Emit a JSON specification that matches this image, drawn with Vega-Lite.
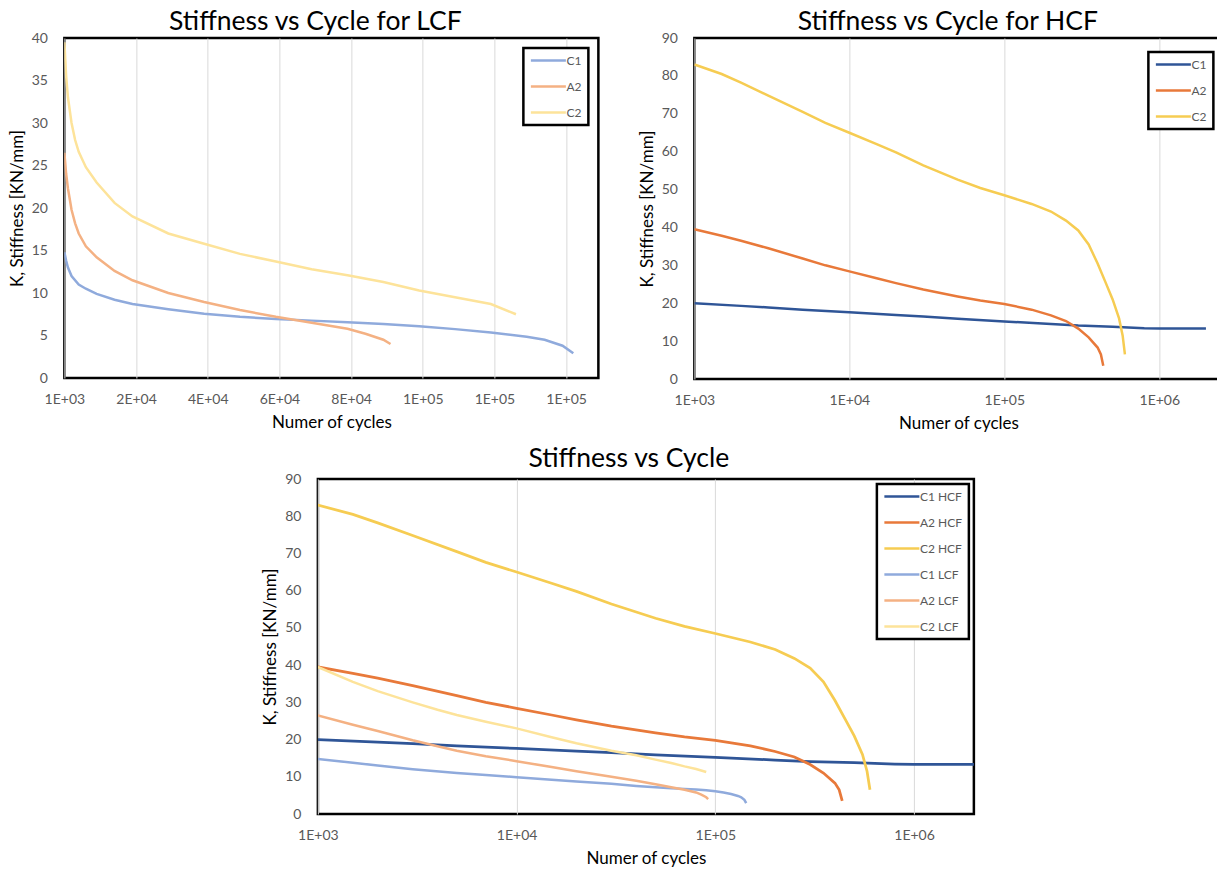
{
  "$schema": "https://vega.github.io/schema/vega-lite/v6.json",
  "background": "white",
  "padding": {"left": 6, "top": 7, "right": 0, "bottom": 0},
  "datasets": {
    "lcf": [
      {"series": "C1 LCF", "cycles": 1000, "k": 14.8},
      {"series": "C1 LCF", "cycles": 1500, "k": 13.8},
      {"series": "C1 LCF", "cycles": 2000, "k": 13.0},
      {"series": "C1 LCF", "cycles": 3000, "k": 12.0},
      {"series": "C1 LCF", "cycles": 5000, "k": 11.0},
      {"series": "C1 LCF", "cycles": 7000, "k": 10.5},
      {"series": "C1 LCF", "cycles": 10000, "k": 9.9},
      {"series": "C1 LCF", "cycles": 15000, "k": 9.2},
      {"series": "C1 LCF", "cycles": 20000, "k": 8.7},
      {"series": "C1 LCF", "cycles": 30000, "k": 8.1},
      {"series": "C1 LCF", "cycles": 40000, "k": 7.55},
      {"series": "C1 LCF", "cycles": 50000, "k": 7.2},
      {"series": "C1 LCF", "cycles": 60000, "k": 6.95},
      {"series": "C1 LCF", "cycles": 70000, "k": 6.75},
      {"series": "C1 LCF", "cycles": 80000, "k": 6.55},
      {"series": "C1 LCF", "cycles": 90000, "k": 6.35},
      {"series": "C1 LCF", "cycles": 100000, "k": 6.1},
      {"series": "C1 LCF", "cycles": 110000, "k": 5.75},
      {"series": "C1 LCF", "cycles": 120000, "k": 5.35},
      {"series": "C1 LCF", "cycles": 130000, "k": 4.85},
      {"series": "C1 LCF", "cycles": 135000, "k": 4.5},
      {"series": "C1 LCF", "cycles": 140000, "k": 3.8},
      {"series": "C1 LCF", "cycles": 143000, "k": 2.9},
      {"series": "A2 LCF", "cycles": 1000, "k": 26.5},
      {"series": "A2 LCF", "cycles": 1500, "k": 24.0},
      {"series": "A2 LCF", "cycles": 2000, "k": 22.3},
      {"series": "A2 LCF", "cycles": 3000, "k": 19.8},
      {"series": "A2 LCF", "cycles": 4000, "k": 18.2},
      {"series": "A2 LCF", "cycles": 5000, "k": 17.0},
      {"series": "A2 LCF", "cycles": 7000, "k": 15.5},
      {"series": "A2 LCF", "cycles": 10000, "k": 14.2},
      {"series": "A2 LCF", "cycles": 15000, "k": 12.6},
      {"series": "A2 LCF", "cycles": 20000, "k": 11.5},
      {"series": "A2 LCF", "cycles": 30000, "k": 10.0},
      {"series": "A2 LCF", "cycles": 40000, "k": 8.95},
      {"series": "A2 LCF", "cycles": 50000, "k": 8.0},
      {"series": "A2 LCF", "cycles": 60000, "k": 7.2},
      {"series": "A2 LCF", "cycles": 70000, "k": 6.5},
      {"series": "A2 LCF", "cycles": 80000, "k": 5.8},
      {"series": "A2 LCF", "cycles": 85000, "k": 5.2},
      {"series": "A2 LCF", "cycles": 90000, "k": 4.5},
      {"series": "A2 LCF", "cycles": 92000, "k": 4.0},
      {"series": "C2 LCF", "cycles": 1000, "k": 39.5},
      {"series": "C2 LCF", "cycles": 1500, "k": 35.5},
      {"series": "C2 LCF", "cycles": 2000, "k": 33.0},
      {"series": "C2 LCF", "cycles": 3000, "k": 30.0},
      {"series": "C2 LCF", "cycles": 4000, "k": 28.0},
      {"series": "C2 LCF", "cycles": 5000, "k": 26.6},
      {"series": "C2 LCF", "cycles": 7000, "k": 24.8},
      {"series": "C2 LCF", "cycles": 10000, "k": 23.0},
      {"series": "C2 LCF", "cycles": 15000, "k": 20.6},
      {"series": "C2 LCF", "cycles": 20000, "k": 19.0},
      {"series": "C2 LCF", "cycles": 30000, "k": 17.0},
      {"series": "C2 LCF", "cycles": 40000, "k": 15.8},
      {"series": "C2 LCF", "cycles": 50000, "k": 14.6},
      {"series": "C2 LCF", "cycles": 60000, "k": 13.7},
      {"series": "C2 LCF", "cycles": 70000, "k": 12.8},
      {"series": "C2 LCF", "cycles": 80000, "k": 12.1},
      {"series": "C2 LCF", "cycles": 90000, "k": 11.3},
      {"series": "C2 LCF", "cycles": 100000, "k": 10.3},
      {"series": "C2 LCF", "cycles": 110000, "k": 9.5},
      {"series": "C2 LCF", "cycles": 120000, "k": 8.7},
      {"series": "C2 LCF", "cycles": 127000, "k": 7.5}
    ],
    "hcf": [
      {"series": "C1 HCF", "cycles": 1000, "k": 20.0},
      {"series": "C1 HCF", "cycles": 2000, "k": 19.3},
      {"series": "C1 HCF", "cycles": 3000, "k": 18.9},
      {"series": "C1 HCF", "cycles": 5000, "k": 18.3},
      {"series": "C1 HCF", "cycles": 10000, "k": 17.6},
      {"series": "C1 HCF", "cycles": 20000, "k": 16.9},
      {"series": "C1 HCF", "cycles": 30000, "k": 16.5},
      {"series": "C1 HCF", "cycles": 50000, "k": 15.9},
      {"series": "C1 HCF", "cycles": 100000, "k": 15.2},
      {"series": "C1 HCF", "cycles": 200000, "k": 14.5},
      {"series": "C1 HCF", "cycles": 300000, "k": 14.1},
      {"series": "C1 HCF", "cycles": 500000, "k": 13.8},
      {"series": "C1 HCF", "cycles": 800000, "k": 13.4},
      {"series": "C1 HCF", "cycles": 1000000, "k": 13.3},
      {"series": "C1 HCF", "cycles": 2000000, "k": 13.3},
      {"series": "A2 HCF", "cycles": 1000, "k": 39.5},
      {"series": "A2 HCF", "cycles": 1500, "k": 37.8},
      {"series": "A2 HCF", "cycles": 2000, "k": 36.5},
      {"series": "A2 HCF", "cycles": 3000, "k": 34.5},
      {"series": "A2 HCF", "cycles": 5000, "k": 31.8},
      {"series": "A2 HCF", "cycles": 7000, "k": 30.0},
      {"series": "A2 HCF", "cycles": 10000, "k": 28.4},
      {"series": "A2 HCF", "cycles": 15000, "k": 26.6},
      {"series": "A2 HCF", "cycles": 20000, "k": 25.3},
      {"series": "A2 HCF", "cycles": 30000, "k": 23.6},
      {"series": "A2 HCF", "cycles": 50000, "k": 21.8},
      {"series": "A2 HCF", "cycles": 70000, "k": 20.7},
      {"series": "A2 HCF", "cycles": 100000, "k": 19.8},
      {"series": "A2 HCF", "cycles": 150000, "k": 18.3},
      {"series": "A2 HCF", "cycles": 200000, "k": 16.8},
      {"series": "A2 HCF", "cycles": 250000, "k": 15.3},
      {"series": "A2 HCF", "cycles": 300000, "k": 13.3},
      {"series": "A2 HCF", "cycles": 350000, "k": 11.0},
      {"series": "A2 HCF", "cycles": 400000, "k": 8.3},
      {"series": "A2 HCF", "cycles": 420000, "k": 6.5},
      {"series": "A2 HCF", "cycles": 435000, "k": 3.5},
      {"series": "C2 HCF", "cycles": 1000, "k": 83.0},
      {"series": "C2 HCF", "cycles": 1500, "k": 80.5},
      {"series": "C2 HCF", "cycles": 2000, "k": 78.2},
      {"series": "C2 HCF", "cycles": 3000, "k": 74.8},
      {"series": "C2 HCF", "cycles": 5000, "k": 70.5},
      {"series": "C2 HCF", "cycles": 7000, "k": 67.6},
      {"series": "C2 HCF", "cycles": 10000, "k": 65.0},
      {"series": "C2 HCF", "cycles": 15000, "k": 62.0},
      {"series": "C2 HCF", "cycles": 20000, "k": 59.8},
      {"series": "C2 HCF", "cycles": 30000, "k": 56.4},
      {"series": "C2 HCF", "cycles": 50000, "k": 52.6},
      {"series": "C2 HCF", "cycles": 70000, "k": 50.4},
      {"series": "C2 HCF", "cycles": 100000, "k": 48.5},
      {"series": "C2 HCF", "cycles": 150000, "k": 46.2},
      {"series": "C2 HCF", "cycles": 200000, "k": 44.2},
      {"series": "C2 HCF", "cycles": 250000, "k": 41.8},
      {"series": "C2 HCF", "cycles": 300000, "k": 39.2},
      {"series": "C2 HCF", "cycles": 350000, "k": 35.5},
      {"series": "C2 HCF", "cycles": 400000, "k": 30.5},
      {"series": "C2 HCF", "cycles": 450000, "k": 25.5},
      {"series": "C2 HCF", "cycles": 500000, "k": 21.0},
      {"series": "C2 HCF", "cycles": 550000, "k": 16.0},
      {"series": "C2 HCF", "cycles": 580000, "k": 11.5},
      {"series": "C2 HCF", "cycles": 600000, "k": 6.5}
    ]
  },
  "vconcat": [
    {
      "hconcat": [
        {
          "title": {"text": "Stiffness vs Cycle for LCF", "dx": -16, "offset": -4},
          "width": 534,
          "height": 340,
          "data": {"name": "lcf"},
          "mark": {"type": "line", "strokeWidth": 2.5, "clip": true},
          "encoding": {
            "x": {
              "field": "cycles", "type": "quantitative",
              "scale": {"domain": [1000, 150000], "nice": false, "zero": false},
              "axis": {
                "title": "Numer of cycles",
                "values": [1000, 21000, 41000, 61000, 81000, 101000, 121000, 141000],
                "labelExpr": "replace(upper(format(datum.value, '.0e')), 'E+', 'E+0')"
              }
            },
            "y": {
              "field": "k", "type": "quantitative",
              "scale": {"domain": [0, 40], "nice": false},
              "axis": {"title": "K, Stiffness [KN/mm]", "values": [0, 5, 10, 15, 20, 25, 30, 35, 40]}
            },
            "color": {
              "field": "series", "type": "nominal",
              "scale": {"domain": ["C1 LCF", "A2 LCF", "C2 LCF"], "range": ["#8FAADC", "#F4B183", "#FDE39A"]},
              "legend": {"title": null, "offset": 10, "labelExpr": "split(datum.label, ' ')[0]"}
            }
          }
        },
        {
          "title": {"text": "Stiffness vs Cycle for HCF", "dx": -13, "offset": -4},
          "width": 533,
          "height": 341,
          "data": {"name": "hcf"},
          "mark": {"type": "line", "strokeWidth": 2.5, "clip": true},
          "encoding": {
            "x": {
              "field": "cycles", "type": "quantitative",
              "scale": {"type": "log", "domain": [1000, 2750000], "nice": false},
              "axis": {
                "title": "Numer of cycles",
                "titleX": 264,
                "values": [1000, 10000, 100000, 1000000],
                "labelExpr": "replace(upper(format(datum.value, '.0e')), 'E+', 'E+0')"
              }
            },
            "y": {
              "field": "k", "type": "quantitative",
              "scale": {"domain": [0, 90], "nice": false},
              "axis": {"title": "K, Stiffness [KN/mm]", "values": [0, 10, 20, 30, 40, 50, 60, 70, 80, 90]}
            },
            "color": {
              "field": "series", "type": "nominal",
              "scale": {"domain": ["C1 HCF", "A2 HCF", "C2 HCF"], "range": ["#2F5597", "#E8793A", "#F6CC52"]},
              "legend": {"title": null, "offset": 14, "labelExpr": "split(datum.label, ' ')[0]"}
            }
          }
        }
      ],
      "spacing": 36,
      "resolve": {"scale": {"color": "independent", "x": "independent", "y": "independent"}, "legend": {"color": "independent"}}
    },
    {
      "title": {"text": "Stiffness vs Cycle", "dx": -17, "offset": 0},
      "width": 656,
      "height": 335,
      "encoding": {
        "x": {
          "field": "cycles", "type": "quantitative",
          "scale": {"type": "log", "domain": [1000, 2000000], "nice": false},
          "axis": {
            "title": "Numer of cycles",
            "values": [1000, 10000, 100000, 1000000],
            "labelExpr": "replace(upper(format(datum.value, '.0e')), 'E+', 'E+0')"
          }
        },
        "y": {
          "field": "k", "type": "quantitative",
          "scale": {"domain": [0, 90], "nice": false},
          "axis": {"title": "K, Stiffness [KN/mm]", "values": [0, 10, 20, 30, 40, 50, 60, 70, 80, 90]}
        },
        "color": {
          "field": "series", "type": "nominal",
          "scale": {
            "domain": ["C1 HCF", "A2 HCF", "C2 HCF", "C1 LCF", "A2 LCF", "C2 LCF"],
            "range": ["#2F5597", "#E8793A", "#F6CC52", "#8FAADC", "#F4B183", "#FDE39A"]
          },
          "legend": {"title": null, "offset": 5}
        }
      },
      "layer": [
        {
          "data": {"name": "hcf"},
          "mark": {"type": "line", "strokeWidth": 2.75, "clip": true}
        },
        {
          "data": {"name": "lcf"},
          "transform": [{"filter": "datum.series != 'C2 LCF' || datum.cycles <= 90000"}],
          "mark": {"type": "line", "strokeWidth": 2.5, "clip": true}
        }
      ]
    }
  ],
  "spacing": 11,
  "center": true,
  "resolve": {"scale": {"color": "independent", "x": "independent", "y": "independent"}, "legend": {"color": "independent"}},
  "config": {
    "font": "Lato",
    "view": {"stroke": "#000000", "strokeWidth": 2.5},
    "title": {"font": "Lato", "fontSize": 26.5, "fontWeight": "normal", "color": "#000000"},
    "axis": {
      "labelFont": "Lato", "labelFontSize": 14, "labelColor": "#595959",
      "titleFont": "Lato", "titleFontSize": 17, "titleFontWeight": "normal", "titleColor": "#000000",
      "ticks": false, "domain": false, "gridColor": "#d9d9d9", "gridWidth": 1
    },
    "axisX": {"grid": true, "labelFlush": false, "labelPadding": 14, "titlePadding": 8},
    "axisY": {"grid": false, "labelPadding": 17, "titlePadding": 5},
    "legend": {
      "orient": "top-right",
      "labelFont": "Lato", "labelFontSize": 12, "labelColor": "#595959",
      "symbolType": "M-1,0H6", "symbolStrokeWidth": 2.5, "symbolSize": 100,
      "symbolFillColor": "transparent",
      "labelOffset": 24,
      "strokeColor": "#000000", "strokeWidth": 2.5, "fillColor": "#ffffff",
      "padding": 6, "rowPadding": 13
    }
  }
}
